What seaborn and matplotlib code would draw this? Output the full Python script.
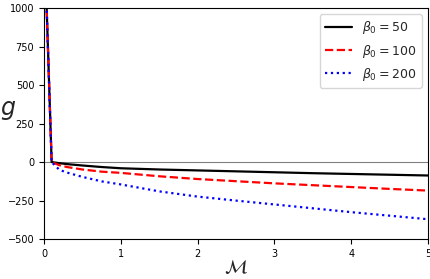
import numpy as np
import pandas as pd
import seaborn as sns
import matplotlib
matplotlib.use("Agg")
import matplotlib.pyplot as plt

# values
M = [0.0, 0.1, 0.2, 0.3, 0.5, 0.75, 1.0, 1.5, 2.0, 2.5, 3.0, 3.5, 4.0, 4.5, 5.0]
g_50 = [1540, 0, -7, -13, -22, -32, -40, -48, -54, -60, -66, -72, -77, -82, -87]
g_100 = [1540, 0, -20, -32, -48, -62, -70, -92, -110, -124, -138, -150, -162, -174, -185]
g_200 = [1540, 0, -50, -68, -96, -125, -145, -190, -224, -250, -275, -300, -325, -348, -371]
labels = [r"$\beta_0 = 50$", r"$\beta_0 = 100$", r"$\beta_0 = 200$"]

sns.set_style("ticks")
plt.rcParams['font.family'] = ['DejaVu Sans']

fig = plt.figure(figsize=(4.31, 2.79), dpi=100)
ax = fig.add_axes([0.102, 0.143, 0.891, 0.828])

ax.axhline(0, color="gray", lw=0.8)

styles = [("black", "-"), ("red", "--"), ("blue", ":")]
for vals, lab, (c, ls) in zip([g_50, g_100, g_200], labels, styles):
    df = pd.DataFrame({"M": M, "g": vals})
    sns.lineplot(data=df, x="M", y="g", ax=ax, color=c, linestyle=ls,
                 lw=1.6, label=lab, sort=False)

ax.set_xlim(0, 5)
ax.set_ylim(-500, 1000)
ax.set_xticks([0, 1, 2, 3, 4, 5])
ax.set_yticks([-500, -250, 0, 250, 500, 750, 1000])
ax.tick_params(labelsize=7, length=3.5, width=0.8, colors="black")
for s in ax.spines.values():
    s.set_color("black")
    s.set_linewidth(0.8)

ax.set_xlabel(r"$\mathcal{M}$", fontsize=14)
ax.xaxis.label.set_va("center")
ax.xaxis.set_label_coords(0.5, -0.125)
ax.set_ylabel(r"$g$", fontsize=17, rotation=0)
ax.yaxis.label.set_va("center")
ax.yaxis.label.set_ha("center")
ax.yaxis.set_label_coords(-0.094, 0.56)

ax.legend(loc="upper right", fontsize=9, handlelength=2.2, frameon=True)

fig.savefig("out.png", dpi=100)
